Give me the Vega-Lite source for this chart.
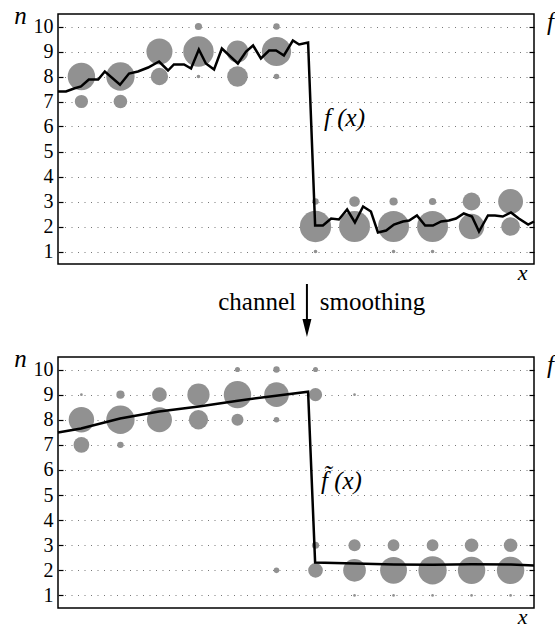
{
  "$schema": "https://vega.github.io/schema/vega-lite/v6.json",
  "background": "white",
  "padding": {"left": 13, "top": 2, "right": 0, "bottom": 0},
  "config": {
    "font": "Liberation Serif, Times New Roman, DejaVu Serif, serif",
    "view": {"stroke": "black", "strokeWidth": 1.5},
    "axis": {"labelFont": "Liberation Serif, Times New Roman, DejaVu Serif, serif", "titleFont": "Liberation Serif, Times New Roman, DejaVu Serif, serif"},
    "text": {"font": "Liberation Serif, Times New Roman, DejaVu Serif, serif"},
    "axisX": {
      "labels": false, "ticks": false, "domain": false, "grid": false,
      "titleFontStyle": "italic", "titleFontWeight": "normal",
      "titleFontSize": 22, "titleColor": "black", "titleX": 464, "titleY": 15,
      "titleAlign": "center", "titleBaseline": "alphabetic"
    }
  },
  "datasets": {
    "topPoints": [
      {"x": 1, "n": 8, "p": 0.73}, {"x": 1, "n": 7, "p": 0.17},
      {"x": 2, "n": 8, "p": 0.78}, {"x": 2, "n": 7, "p": 0.18},
      {"x": 3, "n": 9, "p": 0.66}, {"x": 3, "n": 8, "p": 0.29},
      {"x": 4, "n": 9, "p": 0.90}, {"x": 4, "n": 10, "p": 0.05}, {"x": 4, "n": 8, "p": 0.013},
      {"x": 5, "n": 9, "p": 0.46}, {"x": 5, "n": 8, "p": 0.41},
      {"x": 6, "n": 9, "p": 0.83}, {"x": 6, "n": 10, "p": 0.04}, {"x": 6, "n": 8, "p": 0.03},
      {"x": 7, "n": 2, "p": 0.95}, {"x": 7, "n": 3, "p": 0.04}, {"x": 7, "n": 1, "p": 0.013},
      {"x": 8, "n": 2, "p": 0.93}, {"x": 8, "n": 3, "p": 0.11},
      {"x": 9, "n": 2, "p": 0.93}, {"x": 9, "n": 3, "p": 0.065}, {"x": 9, "n": 1, "p": 0.013},
      {"x": 10, "n": 2, "p": 0.93}, {"x": 10, "n": 3, "p": 0.05}, {"x": 10, "n": 1, "p": 0.013},
      {"x": 11, "n": 3, "p": 0.31}, {"x": 11, "n": 2, "p": 0.63},
      {"x": 12, "n": 3, "p": 0.60}, {"x": 12, "n": 2, "p": 0.34}
    ],
    "topLine": [
      {"x": 0.40, "n": 7.40}, {"x": 0.605, "n": 7.40}, {"x": 0.81, "n": 7.52}, {"x": 0.99, "n": 7.60},
      {"x": 1.19, "n": 7.88}, {"x": 1.43, "n": 7.88}, {"x": 1.60, "n": 8.20}, {"x": 1.99, "n": 7.67},
      {"x": 2.22, "n": 8.12}, {"x": 2.45, "n": 8.20}, {"x": 2.71, "n": 8.36}, {"x": 2.99, "n": 8.60},
      {"x": 3.22, "n": 8.24}, {"x": 3.37, "n": 8.48}, {"x": 3.63, "n": 8.48}, {"x": 3.81, "n": 8.32},
      {"x": 4.01, "n": 9.08}, {"x": 4.19, "n": 8.52}, {"x": 4.40, "n": 8.28}, {"x": 4.60, "n": 9.12},
      {"x": 5.01, "n": 8.52}, {"x": 5.22, "n": 9.00}, {"x": 5.40, "n": 9.24}, {"x": 5.60, "n": 8.72},
      {"x": 5.81, "n": 9.04}, {"x": 5.99, "n": 9.04}, {"x": 6.19, "n": 8.84}, {"x": 6.42, "n": 9.44},
      {"x": 6.58, "n": 9.28}, {"x": 6.81, "n": 9.36}, {"x": 6.99, "n": 2.04}, {"x": 7.19, "n": 2.04},
      {"x": 7.40, "n": 2.32}, {"x": 7.60, "n": 2.28}, {"x": 7.81, "n": 2.68}, {"x": 8.01, "n": 2.16},
      {"x": 8.22, "n": 2.80}, {"x": 8.42, "n": 2.60}, {"x": 8.60, "n": 1.76}, {"x": 8.81, "n": 1.84},
      {"x": 9.01, "n": 2.08}, {"x": 9.24, "n": 2.20}, {"x": 9.40, "n": 2.24}, {"x": 9.60, "n": 2.44},
      {"x": 9.81, "n": 2.04}, {"x": 10.01, "n": 2.04}, {"x": 10.22, "n": 2.20}, {"x": 10.42, "n": 2.24},
      {"x": 10.60, "n": 2.32}, {"x": 10.80, "n": 2.52}, {"x": 11.01, "n": 2.40}, {"x": 11.19, "n": 1.80},
      {"x": 11.42, "n": 2.44}, {"x": 11.60, "n": 2.44}, {"x": 11.80, "n": 2.40}, {"x": 12.01, "n": 2.56},
      {"x": 12.21, "n": 2.32}, {"x": 12.45, "n": 2.08}, {"x": 12.60, "n": 2.20}
    ],
    "bottomPoints": [
      {"x": 1, "n": 8, "p": 0.63}, {"x": 1, "n": 7, "p": 0.24}, {"x": 1, "n": 9, "p": 0.007},
      {"x": 2, "n": 8, "p": 0.78}, {"x": 2, "n": 9, "p": 0.065}, {"x": 2, "n": 7, "p": 0.04},
      {"x": 3, "n": 8, "p": 0.61}, {"x": 3, "n": 9, "p": 0.21},
      {"x": 4, "n": 9, "p": 0.48}, {"x": 4, "n": 8, "p": 0.36},
      {"x": 5, "n": 9, "p": 0.73}, {"x": 5, "n": 8, "p": 0.14}, {"x": 5, "n": 10, "p": 0.025},
      {"x": 6, "n": 9, "p": 0.59}, {"x": 6, "n": 8, "p": 0.03}, {"x": 6, "n": 10, "p": 0.04}, {"x": 6, "n": 2, "p": 0.03},
      {"x": 7, "n": 9, "p": 0.17}, {"x": 7, "n": 10, "p": 0.025}, {"x": 7, "n": 2, "p": 0.21}, {"x": 7, "n": 3, "p": 0.05},
      {"x": 8, "n": 9, "p": 0.007}, {"x": 8, "n": 3, "p": 0.145}, {"x": 8, "n": 2, "p": 0.5}, {"x": 8, "n": 1, "p": 0.007},
      {"x": 9, "n": 3, "p": 0.136}, {"x": 9, "n": 2, "p": 0.7}, {"x": 9, "n": 1, "p": 0.007},
      {"x": 10, "n": 3, "p": 0.136}, {"x": 10, "n": 2, "p": 0.78}, {"x": 10, "n": 1, "p": 0.007},
      {"x": 11, "n": 3, "p": 0.18}, {"x": 11, "n": 2, "p": 0.73}, {"x": 11, "n": 1, "p": 0.007},
      {"x": 12, "n": 3, "p": 0.18}, {"x": 12, "n": 2, "p": 0.73}, {"x": 12, "n": 1, "p": 0.007}
    ],
    "bottomLine": [
      {"x": 0.40, "n": 7.49}, {"x": 0.99, "n": 7.65}, {"x": 1.99, "n": 8.05}, {"x": 2.99, "n": 8.33},
      {"x": 4.01, "n": 8.53}, {"x": 5.01, "n": 8.76}, {"x": 5.99, "n": 8.96}, {"x": 6.81, "n": 9.12},
      {"x": 6.99, "n": 2.31}, {"x": 8.01, "n": 2.27}, {"x": 9.01, "n": 2.23}, {"x": 10.01, "n": 2.22},
      {"x": 11.01, "n": 2.24}, {"x": 12.01, "n": 2.23}, {"x": 12.60, "n": 2.19}
    ]
  },
  "vconcat": [
    {
      "width": 476,
      "height": 250,
      "resolve": {"axis": {"y": "independent"}},
      "layer": [
        {
          "data": {"name": "topPoints"},
          "mark": {"type": "circle", "color": "#919191", "opacity": 1},
          "encoding": {
            "x": {"field": "x", "type": "quantitative", "scale": {"domain": [0.4, 12.6]}},
            "y": {"field": "n", "type": "quantitative", "scale": {"domain": [0.5, 10.5], "nice": false, "zero": false},
                  "axis": {"orient": "right", "title": "f", "labels": false, "grid": false, "domain": false,
                           "values": [1,2,3,4,5,6,7,8,9,10], "tickSize": -5, "tickColor": "black", "tickWidth": 1.2,
                           "titleAngle": 0, "titleX": 16, "titleY": 15, "titleAlign": "center", "titleBaseline": "alphabetic",
                           "titleFontSize": 25, "titleFontStyle": "italic", "titleFontWeight": "normal", "titleColor": "black"}},
            "size": {"field": "p", "type": "quantitative", "scale": {"domain": [0, 1], "range": [0, 1030], "zero": true}, "legend": null}
          }
        },
        {
          "data": {"name": "topLine"},
          "mark": {"type": "line", "color": "black", "strokeWidth": 2.5, "strokeJoin": "miter"},
          "encoding": {
            "x": {"field": "x", "type": "quantitative", "scale": {"domain": [0.4, 12.6]}},
            "y": {"field": "n", "type": "quantitative", "scale": {"domain": [0.5, 10.5], "nice": false, "zero": false},
                  "axis": {"orient": "left", "title": "n", "values": [1,2,3,4,5,6,7,8,9,10], "domain": false,
                           "grid": true, "gridDash": [1, 5.5], "gridColor": "#777777", "gridWidth": 1,
                           "tickSize": -5, "tickColor": "black", "tickWidth": 1.2, "labelPadding": 10,
                           "labelFontSize": 20, "labelColor": "black",
                           "titleAngle": 0, "titleX": -38, "titleY": 9, "titleAlign": "center", "titleBaseline": "alphabetic",
                           "titleFontSize": 25, "titleFontStyle": "italic", "titleFontWeight": "normal", "titleColor": "black"}}
          }
        },
        {
          "data": {"values": [{"x": 7.22, "n": 6.04, "label": "f (x)"}]},
          "mark": {"type": "text", "align": "left", "baseline": "alphabetic", "fontSize": 25, "fontStyle": "italic", "color": "black"},
          "encoding": {
            "x": {"field": "x", "type": "quantitative", "scale": {"domain": [0.4, 12.6]}},
            "y": {"field": "n", "type": "quantitative", "axis": null},
            "text": {"field": "label"}
          }
        },
        {
          "data": {"values": [{"x": 6.5, "n": -1.34, "label": "channel"}]},
          "mark": {"type": "text", "align": "right", "baseline": "alphabetic", "fontSize": 25, "color": "black"},
          "encoding": {
            "x": {"field": "x", "type": "quantitative", "scale": {"domain": [0.4, 12.6]}},
            "y": {"field": "n", "type": "quantitative", "axis": null},
            "text": {"field": "label"}
          }
        },
        {
          "data": {"values": [{"x": 7.11, "n": -1.34, "label": "smoothing"}]},
          "mark": {"type": "text", "align": "left", "baseline": "alphabetic", "fontSize": 25, "color": "black"},
          "encoding": {
            "x": {"field": "x", "type": "quantitative", "scale": {"domain": [0.4, 12.6]}},
            "y": {"field": "n", "type": "quantitative", "axis": null},
            "text": {"field": "label"}
          }
        },
        {
          "data": {"values": [{"x": 6.78, "n": -0.3, "n2": -1.8}]},
          "mark": {"type": "rule", "color": "black", "strokeWidth": 2},
          "encoding": {
            "x": {"field": "x", "type": "quantitative", "scale": {"domain": [0.4, 12.6]}},
            "y": {"field": "n", "type": "quantitative", "axis": null},
            "y2": {"field": "n2"}
          }
        },
        {
          "data": {"values": [{"x": 6.78, "n": -2.06}]},
          "mark": {"type": "point", "shape": "M-0.5,-1L0.5,-1L0,1Z", "filled": true, "size": 324, "color": "black", "opacity": 1},
          "encoding": {
            "x": {"field": "x", "type": "quantitative", "scale": {"domain": [0.4, 12.6]}},
            "y": {"field": "n", "type": "quantitative", "axis": null}
          }
        }
      ]
    },
    {
      "width": 476,
      "height": 251,
      "resolve": {"axis": {"y": "independent"}},
      "layer": [
        {
          "data": {"name": "bottomPoints"},
          "mark": {"type": "circle", "color": "#919191", "opacity": 1},
          "encoding": {
            "x": {"field": "x", "type": "quantitative", "scale": {"domain": [0.4, 12.6]}},
            "y": {"field": "n", "type": "quantitative", "scale": {"domain": [0.5, 10.5], "nice": false, "zero": false},
                  "axis": {"orient": "right", "title": "f", "labels": false, "grid": false, "domain": false,
                           "values": [1,2,3,4,5,6,7,8,9,10], "tickSize": -5, "tickColor": "black", "tickWidth": 1.2,
                           "titleAngle": 0, "titleX": 16, "titleY": 15, "titleAlign": "center", "titleBaseline": "alphabetic",
                           "titleFontSize": 25, "titleFontStyle": "italic", "titleFontWeight": "normal", "titleColor": "black"}},
            "size": {"field": "p", "type": "quantitative", "scale": {"domain": [0, 1], "range": [0, 1030], "zero": true}, "legend": null}
          }
        },
        {
          "data": {"name": "bottomLine"},
          "mark": {"type": "line", "color": "black", "strokeWidth": 2.5, "strokeJoin": "miter"},
          "encoding": {
            "x": {"field": "x", "type": "quantitative", "scale": {"domain": [0.4, 12.6]}},
            "y": {"field": "n", "type": "quantitative", "scale": {"domain": [0.5, 10.5], "nice": false, "zero": false},
                  "axis": {"orient": "left", "title": "n", "values": [1,2,3,4,5,6,7,8,9,10], "domain": false,
                           "grid": true, "gridDash": [1, 5.5], "gridColor": "#777777", "gridWidth": 1,
                           "tickSize": -5, "tickColor": "black", "tickWidth": 1.2, "labelPadding": 10,
                           "labelFontSize": 20, "labelColor": "black",
                           "titleAngle": 0, "titleX": -38, "titleY": 9, "titleAlign": "center", "titleBaseline": "alphabetic",
                           "titleFontSize": 25, "titleFontStyle": "italic", "titleFontWeight": "normal", "titleColor": "black"}}
          }
        },
        {
          "data": {"values": [{"x": 7.14, "n": 5.26, "label": "f\u0303 (x)"}]},
          "mark": {"type": "text", "align": "left", "baseline": "alphabetic", "fontSize": 25, "fontStyle": "italic", "color": "black"},
          "encoding": {
            "x": {"field": "x", "type": "quantitative", "scale": {"domain": [0.4, 12.6]}},
            "y": {"field": "n", "type": "quantitative", "axis": null},
            "text": {"field": "label"}
          }
        }
      ]
    }
  ],
  "spacing": 93,
  "bounds": "flush"
}
